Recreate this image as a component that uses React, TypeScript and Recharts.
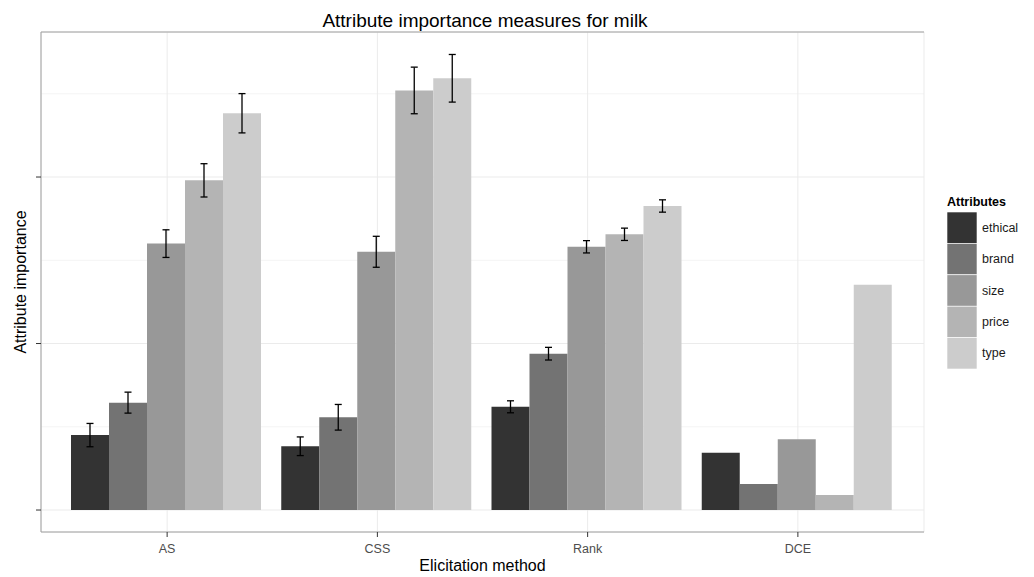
import React from 'react';
import { BarChart, Bar, XAxis, YAxis, CartesianGrid, ErrorBar, Label } from 'recharts';

const methods = ['AS', 'CSS', 'Rank', 'DCE'];
const attributes = ['ethical', 'brand', 'size', 'price', 'type'];
const colors = ['#333333', '#737373', '#989898', '#b4b4b4', '#cccccc'];

const ethical = [0.45, 0.383, 0.62, 0.344];
const brand = [0.645, 0.557, 0.939, 0.156];
const size = [1.6, 1.551, 1.581, 0.425];
const price = [1.98, 2.52, 1.656, 0.09];
const type = [2.383, 2.593, 1.826, 1.353];

const ethicalErr = [0.07, 0.056, 0.036, null];
const brandErr = [0.063, 0.077, 0.038, null];
const sizeErr = [0.083, 0.093, 0.037, null];
const priceErr = [0.1, 0.14, 0.037, null];
const typeErr = [0.118, 0.143, 0.037, null];

const yTicks = [0, 1, 2];
const yMinor = [0.5, 1.5, 2.5];
const yDomain: [number, number] = [-0.132, 2.871];

const title = 'Attribute importance measures for milk';
const xTitle = 'Elicitation method';
const yTitle = 'Attribute importance';
const legendTitle = 'Attributes';

const values: Record<string, (number | null)[]> = { ethical, brand, size, price, type };
const errors: Record<string, (number | null)[]> = {
  ethical: ethicalErr,
  brand: brandErr,
  size: sizeErr,
  price: priceErr,
  type: typeErr,
};

const data = methods.map((m, i) => {
  const row: Record<string, any> = { method: m };
  attributes.forEach((a) => {
    row[a] = values[a][i];
    row[a + '_err'] = errors[a][i];
  });
  return row;
});

const FONT = "'Liberation Sans', Arial, Helvetica, sans-serif";
const BORDER = '#a0a0a0';

export default function App() {
  return (
    <div
      style={{
        position: 'absolute',
        left: 0,
        top: 0,
        width: 1034,
        height: 577,
        background: '#ffffff',
        fontFamily: FONT,
      }}
    >
      <BarChart
        width={1034}
        height={577}
        data={data}
        margin={{ top: 32, right: 110, bottom: 0, left: 0 }}
        barCategoryGap={9}
        barGap={0}
      >
        <CartesianGrid horizontalValues={yMinor} vertical={false} stroke="#f4f4f4" fill="none" />
        <CartesianGrid stroke="#ebebeb" fill="none" />
        <CartesianGrid horizontalValues={yDomain} vertical={false} stroke={BORDER} fill="none" />
        <XAxis
          dataKey="method"
          type="category"
          interval={0}
          padding={{ left: 21, right: 21 }}
          height={45}
          axisLine={false}
          tickLine={{ stroke: '#333333' }}
          tickSize={5}
          tickMargin={7}
          tick={{ fill: '#4d4d4d', fontSize: 12.5, fontFamily: FONT }}
        >
          <Label value={xTitle} position="insideBottom" offset={6} fill="#000000" fontSize={16} fontFamily={FONT} />
        </XAxis>
        <YAxis
          type="number"
          width={41}
          domain={yDomain}
          allowDataOverflow
          ticks={yTicks}
          tickFormatter={() => ''}
          axisLine={{ stroke: BORDER }}
          tickLine={{ stroke: '#333333' }}
          tickSize={5}
        >
          <Label value={yTitle} angle={-90} position="center" fill="#000000" fontSize={16} fontFamily={FONT} />
        </YAxis>
        <YAxis
          yAxisId="right"
          orientation="right"
          type="number"
          width={0}
          domain={yDomain}
          allowDataOverflow
          ticks={yTicks}
          tick={false}
          tickLine={false}
          axisLine={{ stroke: BORDER }}
        />
        {attributes.map((a, k) => (
          <Bar key={a} dataKey={a} name={a} fill={colors[k]} isAnimationActive={false}>
            <ErrorBar dataKey={a + '_err'} width={3.5} stroke="#000000" strokeWidth={1.3} />
          </Bar>
        ))}
      </BarChart>
      <svg
        width={1034}
        height={577}
        style={{ position: 'absolute', left: 0, top: 0, pointerEvents: 'none' }}
      >
        <text x={485} y={27} textAnchor="middle" fontSize={19} fill="#000000" fontFamily={FONT}>
          {title}
        </text>
        <text x={947} y={206} fontSize={12.5} fontWeight="bold" fill="#000000" fontFamily={FONT}>
          {legendTitle}
        </text>
        {attributes.map((a, k) => (
          <g key={a}>
            <rect x={947} y={212 + k * 31.4} width={30} height={31.4} fill={colors[k]} stroke="#ffffff" strokeWidth={0.6} />
            <text
              x={982}
              y={212 + k * 31.4 + 15.7}
              dominantBaseline="central"
              fontSize={12.5}
              fill="#1a1a1a"
              fontFamily={FONT}
            >
              {a}
            </text>
          </g>
        ))}
      </svg>
    </div>
  );
}
